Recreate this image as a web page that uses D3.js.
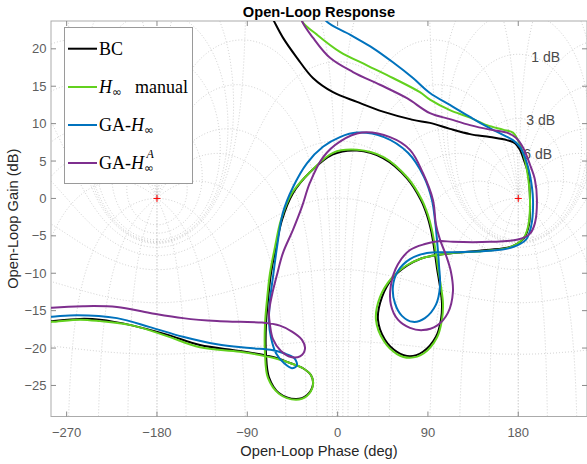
<!DOCTYPE html>
<html>
<head>
<meta charset="utf-8">
<script src="https://cdn.jsdelivr.net/npm/d3@7"></script>
<style>
  body { margin: 0; background: #fff; }
  svg { display: block; }
</style>
</head>
<body>
<svg id="chart" width="587" height="464"></svg>
<script>
// ---- Open-loop frequency responses: phase (deg) and gain (dB) ----
const seriesNames = ["BC", "H∞ manual", "GA-H∞", "GA-H∞^A"];
const seriesColors = ["#000000", "#62d11e", "#0072bd", "#7e2f8e"];

const bcPhase = [-72.4, -63.4, -54.5, -40.5, -24.6, -4.6, 19.3, 45.2, 75.1, 92.0, 111.9, 131.9, 151.8, 168.7, 176.7, 181.7, 185.7, 189.7, 191.7, 190.7, 185.7, 173.7, 148.8, 114.9, 97.0, 82.0, 69.1, 55.1, 44.2, 40.2, 47.2, 59.1, 72.1, 85.0, 98.0, 103.0, 104.0, 102.0, 99.0, 96.0, 93.0, 89.0, 83.0, 69.1, 45.2, 19.3, -4.6, -27.6, -44.5, -55.5, -61.4, -66.4, -69.4, -71.4, -71.4, -68.4, -58.5, -41.5, -30.6, -24.6, -26.6, -34.5, -47.5, -64.4, -97.3, -137.2, -170.1, -203.9, -236.8, -256.7, -284.6, -291.6];
const bcGain = [26.1, 23.7, 21.5, 18.8, 16.1, 14.2, 12.9, 11.6, 10.5, 10.1, 9.3, 8.6, 8.2, 7.8, 7.4, 6.5, 5.1, 3.4, -0.2, -3.5, -5.3, -6.4, -6.9, -7.3, -7.6, -8.1, -9.0, -10.6, -13.2, -16.2, -18.9, -20.5, -21.1, -20.5, -18.5, -16.2, -14.0, -11.8, -9.3, -6.5, -4.2, -2.2, -0.2, 2.7, 5.4, 6.4, 5.9, 3.5, 0.7, -2.9, -6.5, -10.0, -13.6, -16.9, -20.7, -23.9, -26.0, -26.8, -26.3, -24.9, -23.6, -22.7, -22.0, -21.2, -20.4, -19.6, -18.2, -17.0, -16.2, -16.1, -16.4, -16.5];

const hinfPhase = [-39.5, -35.5, -20.6, 2.3, 29.2, 55.1, 82.0, 92.0, 111.9, 131.9, 148.8, 164.8, 174.7, 179.7, 184.7, 188.7, 191.7, 189.7, 184.7, 171.7, 148.8, 114.9, 97.0, 82.0, 68.1, 54.1, 42.2, 38.2, 46.2, 59.1, 72.1, 86.0, 99.0, 104.0, 105.0, 103.0, 100.0, 97.0, 94.0, 90.0, 84.0, 70.1, 46.2, 19.3, -4.6, -27.6, -45.5, -56.5, -62.4, -67.4, -70.4, -72.4, -72.4, -69.4, -58.5, -41.5, -30.6, -24.6, -26.6, -34.5, -47.5, -64.4, -97.3, -137.2, -170.1, -203.9, -236.8, -256.7, -284.6, -291.6];
const hinfGain = [26.1, 23.7, 21.9, 19.6, 17.8, 16.1, 14.2, 13.2, 11.8, 10.8, 9.8, 9.2, 8.8, 7.8, 6.1, 3.8, -0.2, -3.8, -5.4, -6.5, -7.0, -7.3, -7.6, -8.1, -9.0, -10.6, -13.2, -16.2, -19.1, -20.8, -21.3, -20.7, -18.6, -16.2, -14.0, -11.8, -9.3, -6.5, -4.2, -2.2, -0.2, 2.7, 5.5, 6.5, 6.1, 3.5, 0.7, -2.9, -6.5, -10.0, -13.6, -16.9, -20.7, -24.0, -26.1, -26.9, -26.4, -25.0, -23.6, -22.7, -22.0, -21.3, -20.5, -19.9, -18.4, -17.0, -16.4, -16.2, -16.5, -16.5];

const gaPhase = [-15.6, -12.6, 12.3, 35.2, 55.1, 75.1, 92.0, 111.9, 131.9, 148.8, 164.8, 174.7, 181.7, 187.7, 191.7, 194.7, 192.7, 187.7, 174.7, 151.8, 114.9, 89.0, 72.1, 60.1, 55.1, 57.1, 64.1, 75.1, 87.0, 98.0, 102.0, 101.0, 99.0, 97.0, 94.0, 86.0, 70.1, 46.2, 19.3, 2.3, -14.6, -30.6, -44.5, -54.5, -60.4, -64.4, -67.4, -68.4, -66.4, -61.4, -53.5, -45.5, -40.5, -43.5, -53.5, -64.4, -87.3, -120.2, -154.1, -187.0, -219.9, -259.7, -284.6, -291.6];
const gaGain = [26.1, 23.9, 21.9, 20.1, 18.2, 16.1, 14.1, 12.5, 10.9, 9.6, 8.5, 7.8, 6.9, 5.1, 3.1, -0.2, -3.8, -5.5, -6.5, -7.0, -7.2, -7.3, -8.1, -9.7, -11.8, -14.0, -15.7, -16.5, -16.0, -14.2, -11.8, -8.9, -5.5, -2.9, -0.2, 2.9, 6.1, 8.2, 8.8, 8.2, 6.9, 4.7, 1.5, -1.9, -6.5, -10.5, -13.6, -16.5, -18.6, -20.7, -22.0, -22.7, -22.3, -21.3, -20.7, -20.3, -20.0, -19.5, -18.5, -17.2, -16.0, -15.6, -15.8, -15.8];

const gaAPhase = [-39.5, -35.5, -24.6, -7.6, 15.3, 42.2, 69.1, 92.0, 111.9, 131.9, 151.8, 168.7, 177.7, 184.7, 191.7, 196.6, 198.6, 196.6, 191.7, 179.7, 151.8, 114.9, 102.0, 87.0, 72.1, 60.1, 53.1, 53.1, 60.1, 72.1, 85.0, 99.0, 109.9, 114.9, 112.9, 108.0, 102.0, 98.0, 95.0, 85.0, 72.1, 52.2, 24.3, 2.3, -14.6, -27.6, -35.5, -44.5, -54.5, -60.4, -65.4, -68.4, -67.4, -64.4, -56.5, -46.5, -37.5, -32.5, -35.5, -45.5, -57.5, -75.4, -97.3, -120.2, -154.1, -187.0, -219.9, -253.7, -284.6, -291.6];
const gaAGain = [26.1, 23.7, 21.5, 18.8, 16.9, 15.2, 13.4, 11.4, 10.6, 9.8, 9.2, 8.8, 8.1, 6.8, 4.5, 2.5, -0.2, -3.3, -4.7, -5.5, -5.8, -5.8, -5.7, -6.1, -6.9, -8.8, -11.6, -14.2, -16.2, -17.3, -17.6, -17.0, -15.3, -12.5, -9.8, -7.6, -5.5, -3.5, -0.2, 3.4, 6.5, 8.2, 8.8, 7.6, 5.5, 2.1, -1.1, -4.2, -7.3, -10.2, -12.9, -15.3, -16.9, -18.8, -20.4, -21.2, -21.1, -20.1, -18.9, -17.8, -17.0, -16.6, -16.5, -16.4, -16.0, -15.3, -14.5, -14.4, -14.6, -14.7];

// ---- Axis ticks and Nichols grid specification ----
const phaseTicks = [-270, -180, -90, 0, 90, 180];
const gainTicks = [-25, -20, -15, -10, -5, 0, 5, 10, 15, 20];
const closedLoopGainsDb = [6, 3, 1, 0.5, 0.25, 0, -1, -3, -6, -12, -20, -40];
const closedLoopPhasesDeg = [1, 5, 10, 20, 30, 50, 90, 120, 150, 180];
const labelledGainsDb = [1, 3, 6];
const criticalPhases = [-180, 180];

const series = [
  { name: seriesNames[0], color: seriesColors[0], phase: bcPhase, gain: bcGain },
  { name: seriesNames[1], color: seriesColors[1], phase: hinfPhase, gain: hinfGain },
  { name: seriesNames[2], color: seriesColors[2], phase: gaPhase, gain: gaGain },
  { name: seriesNames[3], color: seriesColors[3], phase: gaAPhase, gain: gaAGain }
];

const svg = d3.select("#chart");
const plot = { left: 51, top: 21, right: 587, bottom: 416.5 };
const x = d3.scaleLinear().domain([-285.6, 248.5]).range([plot.left, plot.right]);
const y = d3.scaleLinear().domain([-29.15, 23.72]).range([plot.bottom, plot.top]);

svg.append("defs").append("clipPath").attr("id", "plotClip")
  .append("rect")
  .attr("x", plot.left).attr("y", plot.top)
  .attr("width", plot.right - plot.left).attr("height", plot.bottom - plot.top);

// ---- Nichols grid: closed-loop gain (M) and phase (N) contours ----
const NS = 6000;
function unwrap(prev, a) {
  let v = a;
  while (v - prev > 180) v -= 360;
  while (v - prev < -180) v += 360;
  return v;
}
function toNichols(re, im, prev) {
  const g = 20 * Math.log10(Math.hypot(re, im));
  const p = unwrap(prev, Math.atan2(im, re) * 180 / Math.PI);
  return [p, g];
}
function sampleM(db) {
  const M = Math.pow(10, db / 20);
  const pts = [];
  if (Math.abs(M - 1) < 1e-9) {
    let prev = 270;
    for (let i = 1; i < NS; i++) {
      const a = -Math.PI / 2 + Math.PI * i / NS;
      const q = toNichols(-0.5, Math.tan(a), prev);
      prev = q[0]; pts.push(q);
    }
  } else {
    const c = M * M / (1 - M * M), r = Math.abs(M / (1 - M * M));
    let prev = M > 1 ? 180 : 0;
    for (let i = 0; i <= NS; i++) {
      const th = 2 * Math.PI * i / NS;
      const q = toNichols(c + r * Math.cos(th), r * Math.sin(th), prev);
      prev = q[0]; pts.push(q);
    }
  }
  return pts;
}
function sampleN(psiDeg) {
  const psi = psiDeg * Math.PI / 180;
  const pts = [];
  let prev = psiDeg;
  for (let i = 0; i <= NS; i++) {
    const m = Math.pow(10, -3 + 7 * i / NS);
    const tr = m * Math.cos(psi), ti = m * Math.sin(psi);
    const dr = 1 - tr, di = -ti;
    const den = dr * dr + di * di;
    const lr = (tr * dr + ti * di) / den, li = (ti * dr - tr * di) / den;
    const q = toNichols(lr, li, prev);
    prev = q[0]; pts.push(q);
  }
  return pts;
}

const gridCurves = [];
closedLoopGainsDb.forEach(db => gridCurves.push(sampleM(db)));
closedLoopPhasesDeg.forEach(p => { gridCurves.push(sampleN(p)); gridCurves.push(sampleN(-p)); });

const gridG = svg.append("g").attr("clip-path", "url(#plotClip)");
const shifts = [-720, -360, 0, 360];
gridCurves.forEach(pts => shifts.forEach(s => {
  const px = [];
  let last = null;
  pts.forEach(([p, g], i) => {
    const gx = x(p + s), gy = y(Math.max(-90, Math.min(90, g)));
    if (!last || i === pts.length - 1 || Math.hypot(gx - last[0], gy - last[1]) > 0.8) {
      px.push([gx, gy]); last = [gx, gy];
    }
  });
  if (px.every(q => q[0] < plot.left - 2) || px.every(q => q[0] > plot.right + 2)) return;
  gridG.append("path")
    .attr("d", d3.line()(px))
    .attr("fill", "none")
    .attr("stroke", "#c4c4c4")
    .attr("stroke-width", 0.8)
    .attr("stroke-dasharray", "1,2");
}));

// closed-loop gain labels at the top of each contour
const labelNudge = { 1: [13, 7.5], 3: [8, 6.5], 6: [5, 6] };
labelledGainsDb.forEach(db => {
  const M = Math.pow(10, db / 20);
  const top = 20 * Math.log10(M / (M - 1));
  const [dx, dy] = labelNudge[db];
  svg.append("text")
    .attr("x", x(180) + dx).attr("y", y(top) + dy)
    .attr("font-family", "Liberation Sans, Arial, sans-serif")
    .attr("font-size", 14).attr("fill", "#4a4a4a")
    .text(db + " dB");
});

// critical points
criticalPhases.forEach(p => {
  const cx = x(p), cy = y(0);
  svg.append("path")
    .attr("d", `M${cx - 3.5},${cy}h7M${cx},${cy - 3.5}v7`)
    .attr("stroke", "#ff0000").attr("stroke-width", 1).attr("fill", "none");
});

// ---- Axes frame and ticks ----
const axisColor = "#ababab";
const tickColor = "#8a8a8a";
const frame = svg.append("g");
frame.append("rect")
  .attr("x", plot.left).attr("y", plot.top)
  .attr("width", plot.right - plot.left).attr("height", plot.bottom - plot.top)
  .attr("fill", "none").attr("stroke", axisColor).attr("stroke-width", 1);

const tickFont = "Liberation Sans, Arial, sans-serif";
const fmt = d3.format("d");
phaseTicks.forEach(t => {
  const tx = x(t);
  frame.append("line").attr("x1", tx).attr("x2", tx).attr("y1", plot.bottom).attr("y2", plot.bottom - 5)
    .attr("stroke", tickColor).attr("stroke-width", 1);
  frame.append("line").attr("x1", tx).attr("x2", tx).attr("y1", plot.top).attr("y2", plot.top + 5)
    .attr("stroke", tickColor).attr("stroke-width", 1);
  frame.append("text").attr("x", tx).attr("y", 437.3)
    .attr("text-anchor", "middle").attr("font-family", tickFont).attr("font-size", 13)
    .attr("fill", "#5e5e5e").text(fmt(t));
});
gainTicks.forEach(t => {
  const ty = y(t);
  frame.append("line").attr("x1", plot.left).attr("x2", plot.left + 5).attr("y1", ty).attr("y2", ty)
    .attr("stroke", tickColor).attr("stroke-width", 1);
  frame.append("line").attr("x1", plot.right).attr("x2", plot.right - 5).attr("y1", ty).attr("y2", ty)
    .attr("stroke", tickColor).attr("stroke-width", 1);
  frame.append("text").attr("x", 46.5).attr("y", ty + 4.6)
    .attr("text-anchor", "end").attr("font-family", tickFont).attr("font-size", 13)
    .attr("fill", "#5e5e5e").text(fmt(t));
});

// ---- Response curves ----
const curveG = svg.append("g").attr("clip-path", "url(#plotClip)");
const line = d3.line()
  .x(d => x(d[0])).y(d => y(d[1]))
  .curve(d3.curveCatmullRom.alpha(0.5));
series.forEach(s => {
  const pts = s.phase.map((p, i) => [p, s.gain[i]]);
  curveG.append("path")
    .attr("d", line(pts))
    .attr("fill", "none")
    .attr("stroke", s.color)
    .attr("stroke-width", 2)
    .attr("stroke-linejoin", "round");
});

// ---- Titles ----
svg.append("text").attr("x", (plot.left + plot.right) / 2).attr("y", 17)
  .attr("text-anchor", "middle").attr("font-family", tickFont)
  .attr("font-size", 14.67).attr("font-weight", "bold").attr("fill", "#000")
  .text("Open-Loop Response");
svg.append("text").attr("x", (plot.left + plot.right) / 2).attr("y", 455.5)
  .attr("text-anchor", "middle").attr("font-family", tickFont)
  .attr("font-size", 14.67).attr("fill", "#262626")
  .text("Open-Loop Phase (deg)");
svg.append("text")
  .attr("transform", `translate(17.5,${(plot.top + plot.bottom) / 2}) rotate(-90)`)
  .attr("text-anchor", "middle").attr("font-family", tickFont)
  .attr("font-size", 14.67).attr("fill", "#262626")
  .text("Open-Loop Gain (dB)");

// ---- Legend ----
const serif = "Liberation Serif, Times New Roman, serif";
const infFont = "DejaVu Sans, sans-serif";
const legend = svg.append("g");
legend.append("rect")
  .attr("x", 64.5).attr("y", 27.5).attr("width", 128).attr("height", 156)
  .attr("fill", "#fff").attr("stroke", "#9a9a9a").attr("stroke-width", 1);
const rowY = [48.7, 87, 125, 163];
series.forEach((s, i) => {
  const ly = rowY[i];
  legend.append("line").attr("x1", 68).attr("x2", 97).attr("y1", ly).attr("y2", ly)
    .attr("stroke", s.color).attr("stroke-width", 2);
});

// each entry is one text element built from math-style runs
function entry(row) {
  return legend.append("text").attr("x", 99).attr("y", rowY[row] + 5.8)
    .attr("font-family", serif).attr("font-size", 18).attr("fill", "#000");
}
entry(0).text("BC");
{
  const t = entry(1);
  t.append("tspan").attr("font-style", "italic").text("H");
  t.append("tspan").attr("font-size", 11.5).attr("font-family", infFont).attr("dy", 3.5).text("∞");
  t.append("tspan").attr("x", 135).attr("dy", -3.5).text("manual");
}
{
  const t = entry(2);
  t.append("tspan").text("GA-");
  t.append("tspan").attr("font-style", "italic").text("H");
  t.append("tspan").attr("font-size", 11.5).attr("font-family", infFont).attr("dy", 3.5).text("∞");
}
{
  const t = entry(3);
  t.append("tspan").text("GA-");
  t.append("tspan").attr("font-style", "italic").text("H");
  const inf = t.append("tspan").attr("font-size", 11.5).attr("font-family", infFont)
    .attr("dy", 3.5).text("∞");
  const infLen = inf.node().getComputedTextLength();
  // superscript sits above the subscript
  t.append("tspan").attr("font-size", 12).attr("font-style", "italic")
    .attr("dx", -infLen + 2.5).attr("dy", -14).text("A");
}
</script>
</body>
</html>
